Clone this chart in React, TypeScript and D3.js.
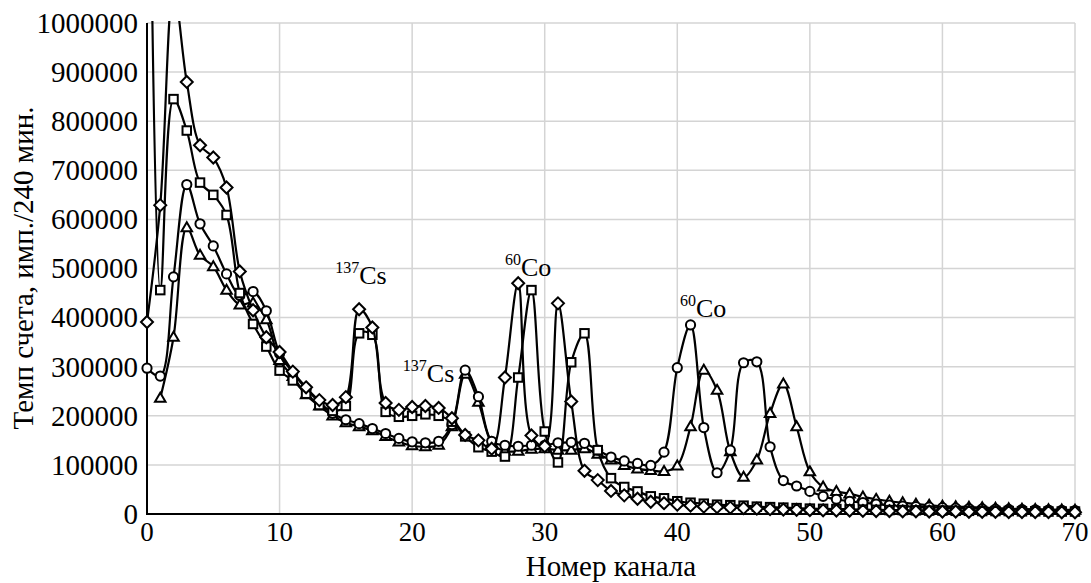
import React from 'react';
import * as d3 from 'd3';

// Channel numbers (x categories)
const channels: number[] = [
  0, 1, 2, 3, 4, 5, 6, 7, 8, 9, 10, 11, 12, 13, 14, 15, 16, 17, 18, 19, 20,
  21, 22, 23, 24, 25, 26, 27, 28, 29, 30, 31, 32, 33, 34, 35, 36, 37, 38, 39, 40,
  41, 42, 43, 44, 45, 46, 47, 48, 49, 50, 51, 52, 53, 54, 55, 56, 57, 58, 59, 60,
  61, 62, 63, 64, 65, 66, 67, 68, 69, 70,
];

const diamondSeries: (number | null)[] = [
  391000, 629000, 1070000, 880000, 751000, 726000, 665000, 494000, 415000, 360000,
  330000, 290000, 258000, 232000, 222000, 238000, 417000, 380000, 226000, 212000,
  218000, 220000, 216000, 195000, 161000, 150000, 133000, 278000, 470000, 160000,
  138000, 429000, 229000, 88000, 69000, 47000, 38000, 31000, 25000, 22000,
  19000, 17000, 15000, 14000, 13000, 12000, 11000, 10000, 9000, 8500,
  8000, 7500, 7000, 7000, 6500, 6000, 6000, 5500, 5500, 5000,
  5000, 5000, 4500, 4500, 4500, 4000, 4000, 4000, 4000, 3500, 3500,
];

const squareSeries: (number | null)[] = [
  2000000, 456000, 845000, 781000, 675000, 650000, 609000, 450000, 387000, 341000,
  292000, 272000, 245000, 222000, 210000, 220000, 368000, 365000, 208000, 198000,
  200000, 203000, 200000, 188000, 158000, 136000, 127000, 117000, 278000, 456000,
  168000, 105000, 309000, 368000, 130000, 73000, 55000, 46000, 36000, 32000,
  26000, 23000, 21000, 19000, 18000, 17000, 15000, 14000, 13000, 12000,
  11000, 10500, 10000, 9500, 9000, 8500, 8000, 8000, 7500, 7000,
  7000, 6500, 6500, 6000, 6000, 6000, 5500, 5500, 5000, 5000, 5000,
];

const circleSeries: (number | null)[] = [
  297000, 281000, 483000, 671000, 591000, 546000, 489000, 445000, 453000, 414000,
  327000, 288000, 255000, 228000, 205000, 192000, 184000, 174000, 164000, 154000,
  147000, 145000, 148000, 182000, 293000, 239000, 148000, 140000, 138000, 140000,
  140000, 145000, 146000, 144000, 130000, 116000, 108000, 103000, 99000, 126000,
  298000, 385000, 176000, 84000, 130000, 308000, 310000, 137000, 68000, 57000,
  46000, 36000, 30000, 26000, 23000, 20000, 18000, 16000, 15000, 14000,
  13000, 12000, 11000, 10500, 10000, 9500, 9000, 8500, 8000, 7500, 7000,
];

const triangleSeries: (number | null)[] = [
  null, 236000, 360000, 583000, 527000, 504000, 456000, 426000, 430000, 396000,
  313000, 280000, 243000, 220000, 200000, 186000, 178000, 170000, 158000, 147000,
  139000, 137000, 140000, 178000, 285000, 228000, 145000, 128000, 128000, 132000,
  133000, 130000, 130000, 133000, 122000, 110000, 99000, 92000, 89000, 87000,
  98000, 178000, 293000, 252000, 127000, 75000, 110000, 205000, 265000, 178000,
  86000, 55000, 46000, 41000, 35000, 30000, 26000, 23000, 20000, 18000,
  16000, 15000, 14000, 13000, 12000, 11000, 10000, 9500, 9000, 8500, 8000,
];

const xTicks: number[] = [0, 10, 20, 30, 40, 50, 60, 70];
const yTicks: number[] = [0, 100000, 200000, 300000, 400000, 500000, 600000, 700000, 800000, 900000, 1000000];

const xTitle = 'Номер канала';
const yTitle = 'Темп счета, имп./240 мин.';

const peakLabels = [
  { sup: '137', main: 'Cs', ch: 14.2, v: 468000 },
  { sup: '137', main: 'Cs', ch: 19.3, v: 268000 },
  { sup: '60', main: 'Co', ch: 27.0, v: 484000 },
  { sup: '60', main: 'Co', ch: 40.2, v: 401000 },
];

const W = 1091;
const H = 583;
const left = 147;
const right = 1075;
const top = 23;
const bottom = 514;
const FONT = '"Liberation Serif", "Times New Roman", serif';

type Shape = 'diamond' | 'square' | 'circle' | 'triangle';

function Marker({ shape, x, y }: { shape: Shape; x: number; y: number }) {
  const common = { fill: '#fff', stroke: '#000', strokeWidth: 2 };
  if (shape === 'diamond') {
    const r = 6;
    return <path d={`M${x},${y - r}L${x + r},${y}L${x},${y + r}L${x - r},${y}Z`} {...common} />;
  }
  if (shape === 'square') {
    const s = 8.5;
    return <rect x={x - s / 2} y={y - s / 2} width={s} height={s} {...common} />;
  }
  if (shape === 'circle') {
    return <circle cx={x} cy={y} r={4.6} {...common} />;
  }
  const h = 9;
  const w = 10.5;
  return <path d={`M${x},${y - h * 0.6}L${x + w / 2},${y + h * 0.4}L${x - w / 2},${y + h * 0.4}Z`} {...common} />;
}

export default function App() {
  const x = d3.scaleLinear().domain([0, 70]).range([left, right]);
  const y = d3.scaleLinear().domain([0, 1000000]).range([bottom, top]);

  const series: { shape: Shape; values: (number | null)[] }[] = [
    { shape: 'triangle', values: triangleSeries },
    { shape: 'circle', values: circleSeries },
    { shape: 'square', values: squareSeries },
    { shape: 'diamond', values: diamondSeries },
  ];

  const line = d3
    .line<[number, number | null]>()
    .defined((d) => d[1] !== null)
    .x((d) => x(d[0]))
    .y((d) => y(d[1] as number))
    .curve(d3.curveCatmullRom.alpha(0.5));

  return (
    <svg
      width={W}
      height={H}
      style={{ position: 'absolute', left: 0, top: 0, background: '#fff' }}
      fontFamily={FONT}
    >
      <defs>
        <clipPath id="plotClip">
          <rect x={0} y={top - 2} width={W} height={H} />
        </clipPath>
      </defs>
      <rect x={0} y={0} width={W} height={H} fill="#fff" />
      {/* gridlines */}
      {yTicks.map((t) => (
        <line key={'gy' + t} x1={left} x2={right} y1={y(t)} y2={y(t)} stroke="#d4d4d4" strokeWidth={1.5} />
      ))}
      {xTicks.map((t) => (
        <line key={'gx' + t} x1={x(t)} x2={x(t)} y1={top} y2={bottom} stroke="#d4d4d4" strokeWidth={1.5} />
      ))}
      {/* axes */}
      <line x1={left} x2={left} y1={top} y2={bottom + 1} stroke="#000" strokeWidth={2} />
      <line x1={left - 1} x2={right} y1={bottom} y2={bottom} stroke="#000" strokeWidth={2} />
      {/* tick labels */}
      {yTicks.map((t) => (
        <text key={'ty' + t} x={left - 9} y={y(t)} dy="0.34em" textAnchor="end" fontSize={29} fill="#000">
          {t}
        </text>
      ))}
      {xTicks.map((t) => (
        <text key={'tx' + t} x={x(t)} y={bottom + 27} textAnchor="middle" fontSize={27} fill="#000">
          {t}
        </text>
      ))}
      {/* axis titles */}
      <text x={611} y={576} textAnchor="middle" fontSize={29} fill="#000">
        {xTitle}
      </text>
      <text
        transform={`translate(33, 268) rotate(-90)`}
        textAnchor="middle"
        fontSize={29}
        fill="#000"
      >
        {yTitle}
      </text>
      {/* series */}
      <g clipPath="url(#plotClip)">
        {series.map((s) => (
          <g key={s.shape}>
            <path
              d={line(channels.map((c, i) => [c, s.values[i]] as [number, number | null])) || ''}
              fill="none"
              stroke="#000"
              strokeWidth={2.2}
            />
            {channels.map((c, i) =>
              s.values[i] === null ? null : (
                <Marker key={c} shape={s.shape} x={x(c)} y={y(s.values[i] as number)} />
              )
            )}
          </g>
        ))}
      </g>
      {/* peak labels */}
      {peakLabels.map((p, i) => (
        <text key={'pl' + i} x={x(p.ch)} y={y(p.v)} fontSize={26} fill="#000">
          <tspan fontSize={16} dy={-11}>
            {p.sup}
          </tspan>
          <tspan dy={11}>{p.main}</tspan>
        </text>
      ))}
    </svg>
  );
}
